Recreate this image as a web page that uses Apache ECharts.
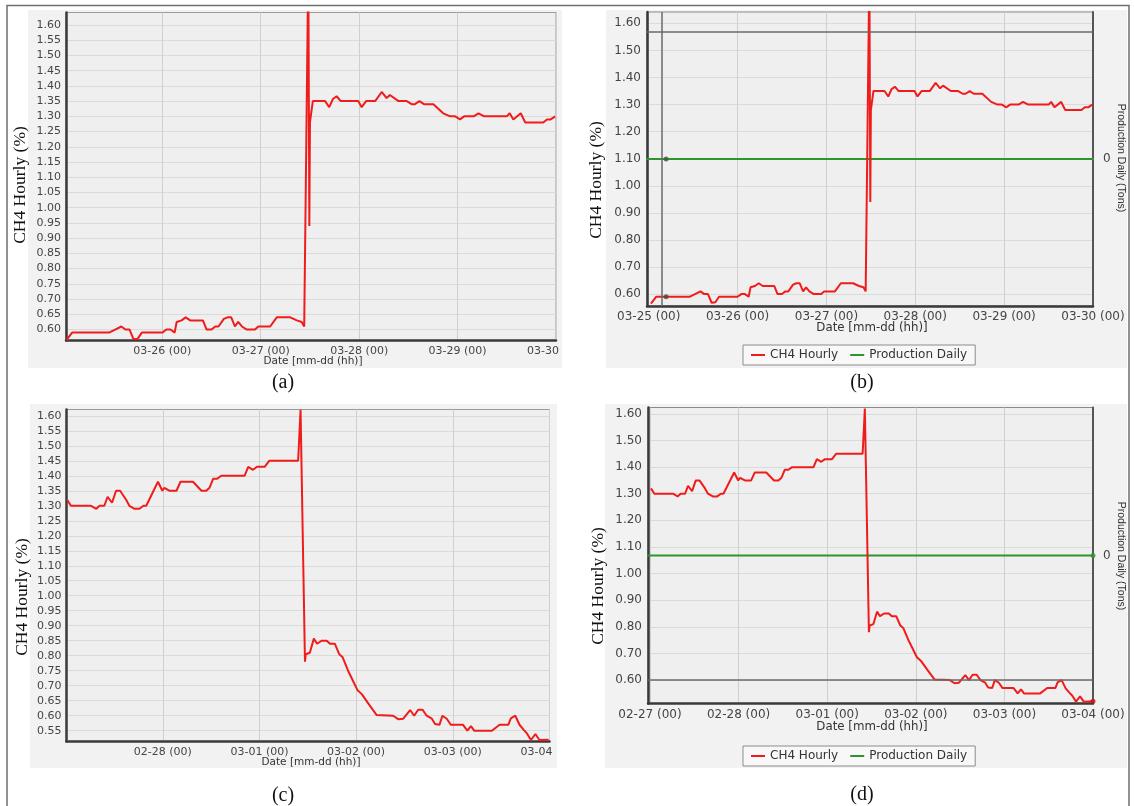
<!DOCTYPE html>
<html><head><meta charset="utf-8">
<script src="https://cdn.jsdelivr.net/npm/echarts@6/dist/echarts.min.js"></script>
<style>html,body{margin:0;padding:0;background:#fff}#c{width:1135px;height:806px}</style>
</head><body><div id="c"></div>
<script>
// ---- data: March event (panels a, b), hours from 2019-03-25 00:00 ----
const marchHours = [0.6, 2, 11, 12.5, 14, 15, 16, 17, 18, 19, 24, 25, 26, 27, 27.5, 28.7, 29.7, 30.8, 33.9, 34.8,
  36, 36.9, 37.7, 39, 39.9, 40.8, 41.7, 42.5, 43.4, 44.6, 46.6, 47.4, 50.3, 51.9, 55.2, 56.8, 58, 58.6, 59.6, 59.85,
  60.0, 60.7, 63.7, 64.7, 65.6, 66.5, 67.5, 71.8, 72.6, 73.7, 75.9, 77.5, 78.7, 79.5, 81.6, 83.6, 84.8, 85.6, 86.7, 87.8,
  90.1, 92.5, 94.2, 95.4, 96.6, 97.6, 99.9, 101.1, 102.5, 108, 108.7, 109.6, 111.4, 112.5, 116.9, 117.8, 118.7, 119.8];
const marchCH4 = [0.565, 0.59, 0.59, 0.60, 0.61, 0.60, 0.60, 0.568, 0.57, 0.59, 0.59, 0.60, 0.60, 0.59, 0.625, 0.63, 0.64, 0.63, 0.63, 0.60,
  0.60, 0.61, 0.61, 0.635, 0.64, 0.64, 0.61, 0.625, 0.61, 0.60, 0.60, 0.61, 0.61, 0.64, 0.64, 0.63, 0.625, 0.61, 1.80, 0.94,
  1.28, 1.35, 1.35, 1.33, 1.357, 1.366, 1.35, 1.35, 1.33, 1.35, 1.35, 1.38, 1.36, 1.37, 1.35, 1.35, 1.34, 1.34, 1.35, 1.34,
  1.34, 1.31, 1.30, 1.30, 1.29, 1.30, 1.30, 1.31, 1.30, 1.30, 1.31, 1.29, 1.31, 1.28, 1.28, 1.29, 1.29, 1.30];

// ---- data: Feb/Mar event (panels c, d), hours from 2019-02-27 00:00 ----
const febHours = [0.25, 1.2, 6.2, 7.5, 8.3, 9.5, 10.3, 11.4, 12.4, 13.4, 14.9, 15.7, 17, 18.2, 19.2, 19.9, 22.8, 23.9, 24.4, 25.7,
  27.4, 28.4, 31.5, 33.6, 34.8, 35.6, 36.5, 37.5, 38.5, 44.3, 45.2, 46.4, 47.4, 49.3, 50.4, 57.6, 58.2, 59.3, 59.5, 60.5,
  61.5, 62.3, 63.4, 64.7, 65.5, 66.7, 67.8, 68.6, 70, 70.9, 72.3, 73.4, 75, 77.1, 81.2, 82.5, 83.7, 85.4, 86.4, 87.4,
  88.5, 89.5, 90.8, 91.6, 92.7, 93.4, 94.5, 95.5, 98.5, 99.6, 100.5, 101.3, 105.7, 107.6, 109.8, 110.4, 111.5, 112.6, 113.6, 114.4,
  115.4, 116.5, 117.5, 119.8];
const febCH4 = [1.32, 1.30, 1.30, 1.29, 1.30, 1.30, 1.33, 1.31, 1.35, 1.35, 1.32, 1.30, 1.29, 1.29, 1.30, 1.30, 1.38, 1.35, 1.36, 1.35,
  1.35, 1.38, 1.38, 1.35, 1.35, 1.36, 1.39, 1.39, 1.40, 1.40, 1.43, 1.42, 1.43, 1.43, 1.45, 1.45, 1.62, 0.78, 0.805, 0.81,
  0.857, 0.84, 0.85, 0.85, 0.84, 0.84, 0.805, 0.796, 0.75, 0.725, 0.686, 0.672, 0.641, 0.602, 0.60, 0.588, 0.59, 0.619, 0.60, 0.62,
  0.62, 0.60, 0.59, 0.572, 0.57, 0.60, 0.59, 0.57, 0.57, 0.55, 0.565, 0.55, 0.55, 0.57, 0.57, 0.591, 0.60, 0.569, 0.553, 0.541,
  0.519, 0.539, 0.519, 0.52];

// Production Daily (Tons): constant 0 across the window
const prodHours = [-2, 122];
const prodTons = [0, 0];

// cursor readouts
const cursorB = { lineHour: 3.6, dotHour: 4.7, ch4: 0.59, prod: 0, hLine: 1.567 };
const cursorD = { dotHour: 120, ch4: 0.52, prod: 0, hLine: 0.60 };

// tick labels
const yTicksFine = [0.60, 0.65, 0.70, 0.75, 0.80, 0.85, 0.90, 0.95, 1.00, 1.05, 1.10, 1.15, 1.20, 1.25, 1.30, 1.35, 1.40, 1.45, 1.50, 1.55, 1.60];
const yTicksFineC = [0.55, 0.60, 0.65, 0.70, 0.75, 0.80, 0.85, 0.90, 0.95, 1.00, 1.05, 1.10, 1.15, 1.20, 1.25, 1.30, 1.35, 1.40, 1.45, 1.50, 1.55, 1.60];
const yTicksCoarse = [0.60, 0.70, 0.80, 0.90, 1.00, 1.10, 1.20, 1.30, 1.40, 1.50, 1.60];
const daysMarch = ['2019-03-25', '2019-03-26', '2019-03-27', '2019-03-28', '2019-03-29', '2019-03-30'];
const daysFeb = ['2019-02-27', '2019-02-28', '2019-03-01', '2019-03-02', '2019-03-03', '2019-03-04'];

// ---- helpers ----
const HOUR = 3600 * 1000;
function dayTs(s) { const p = s.split('-'); return new Date(+p[0], +p[1] - 1, +p[2], 0, 0, 0).getTime(); }
const BASE_M = dayTs(daysMarch[0]);
const BASE_F = dayTs(daysFeb[0]);
const th = (base, h) => base + h * HOUR;
function series(base, hours, vals) { return hours.map((h, i) => [th(base, h), vals[i]]); }
function pad(n) { return (n < 10 ? '0' : '') + n; }
function fmtDate(v) { const d = new Date(v); return pad(d.getMonth() + 1) + '-' + pad(d.getDate()) + ' (' + pad(d.getHours()) + ')'; }

const LBL = '#454545', AX = '#3a3a3a';
function xAx(gi, base, minH, fs, days) {
  const tv = days.map(dayTs);
  return {
    type: 'value', gridIndex: gi, min: th(base, minH), max: th(base, 120), scale: true,
    axisLine: { show: true, onZero: false, lineStyle: { color: AX, width: 2.5 } },
    axisTick: { show: false, customValues: tv },
    axisLabel: { customValues: tv, formatter: fmtDate, color: LBL, fontFamily: 'DejaVu Sans', fontSize: fs, margin: 5, hideOverlap: false, showMinLabel: true, showMaxLabel: true },
    splitLine: { show: true, lineStyle: { color: '#cfcfcf', width: 1 } }
  };
}
function yAx(gi, min, max, ticks, fs, margin) {
  return {
    type: 'value', gridIndex: gi, min: min, max: max,
    axisLine: { show: true, lineStyle: { color: AX, width: 2.5 } },
    axisTick: { show: false, customValues: ticks },
    axisLabel: { customValues: ticks, formatter: v => v.toFixed(2), color: LBL, fontFamily: 'DejaVu Sans', fontSize: fs, margin: margin },
    splitLine: { show: true, lineStyle: { color: '#dadada', width: 1 } }
  };
}
function yRight(gi) {
  return {
    type: 'value', gridIndex: gi, position: 'right', min: -1, max: 1, interval: 1,
    axisLine: { show: true, lineStyle: { color: '#555', width: 2 } },
    axisTick: { show: false },
    axisLabel: { formatter: v => (v === 0 ? '0' : ''), color: LBL, fontFamily: 'DejaVu Sans', fontSize: 12, margin: 10 },
    splitLine: { show: false }
  };
}
const RED = '#f01c1c', GREEN = '#2e952e';
function redLine(xi, yi, data, extra) {
  return Object.assign({ name: 'CH4 Hourly', type: 'line', xAxisIndex: xi, yAxisIndex: yi, data: data, showSymbol: false, symbol: 'none',
    lineStyle: { color: RED, width: 2 }, itemStyle: { color: RED }, clip: true, z: 3 }, extra || {});
}
function greenLine(xi, yi, base) {
  return { name: 'Production Daily', type: 'line', xAxisIndex: xi, yAxisIndex: yi, data: series(base, prodHours, prodTons), showSymbol: false, symbol: 'none',
    lineStyle: { color: GREEN, width: 2 }, itemStyle: { color: GREEN }, clip: true, z: 2 };
}
function dot(xi, yi, pt, color) {
  return { name: 'cursor', type: 'scatter', xAxisIndex: xi, yAxisIndex: yi, data: [pt], symbolSize: 5, itemStyle: { color: color }, clip: false, z: 5, silent: true };
}
function txt(x, y, text, font, rot, color) {
  return { type: 'text', x: x, y: y, rotation: rot || 0, z: 100,
    style: { text: text, font: font, fill: color || '#111', align: 'center', verticalAlign: 'middle' } };
}
const serifT = '17.5px "Liberation Serif", "Times New Roman", serif';
const serifP = '20px "Liberation Serif", "Times New Roman", serif';

const chart = echarts.init(document.getElementById('c'), null, { renderer: 'canvas' });
chart.setOption({
  animation: false,
  backgroundColor: '#ffffff',
  grid: [
    { left: 66, top: 12.5, width: 490, height: 328, show: true, backgroundColor: '#efefef', borderColor: '#9a9a9a', borderWidth: 1 },
    { left: 647, top: 12, width: 446, height: 294, show: true, backgroundColor: '#efefef', borderColor: '#8a8a8a', borderWidth: 1 },
    { left: 66.5, top: 409.5, width: 483, height: 332, show: true, backgroundColor: '#efefef', borderColor: '#9a9a9a', borderWidth: 1 },
    { left: 648, top: 407.5, width: 445, height: 296, show: true, backgroundColor: '#efefef', borderColor: '#8a8a8a', borderWidth: 1 }
  ],
  xAxis: [
    xAx(0, BASE_M, 0.51, 11, daysMarch),
    xAx(1, BASE_M, -0.46, 12, daysMarch),
    xAx(2, BASE_F, 0.1, 11, daysFeb),
    xAx(3, BASE_F, -0.54, 12, daysFeb)
  ],
  yAxis: [
    yAx(0, 0.564, 1.641, yTicksFine, 11, 5),
    yAx(1, 0.556, 1.642, yTicksCoarse, 12, 6),
    yRight(1),
    yAx(2, 0.514, 1.621, yTicksFineC, 11, 5),
    yAx(3, 0.512, 1.624, yTicksCoarse, 12, 6),
    yRight(3)
  ],
  legend: [
    { left: 743, top: 345, data: ['CH4 Hourly', 'Production Daily'], icon: 'rect', itemWidth: 14, itemHeight: 2, itemGap: 12,
      backgroundColor: '#f8f8f8', borderColor: '#8c8c8c', borderWidth: 1, borderRadius: 0, padding: [4, 8, 4, 8],
      textStyle: { fontFamily: 'DejaVu Sans', fontSize: 12, color: '#333' }, selectedMode: false },
    { left: 743, top: 746, data: ['CH4 Hourly', 'Production Daily'], icon: 'rect', itemWidth: 14, itemHeight: 2, itemGap: 12,
      backgroundColor: '#f8f8f8', borderColor: '#8c8c8c', borderWidth: 1, borderRadius: 0, padding: [4, 8, 4, 8],
      textStyle: { fontFamily: 'DejaVu Sans', fontSize: 12, color: '#333' }, selectedMode: false }
  ],
  series: [
    redLine(0, 0, series(BASE_M, marchHours, marchCH4)),
    redLine(1, 1, series(BASE_M, marchHours, marchCH4), {
      markLine: { silent: true, symbol: 'none', label: { show: false }, lineStyle: { color: '#6a6a6a', width: 1.5, type: 'solid' },
        data: [{ xAxis: th(BASE_M, cursorB.lineHour) }, { yAxis: cursorB.hLine }] }
    }),
    greenLine(1, 2, BASE_M),
    dot(1, 1, [th(BASE_M, cursorB.dotHour), cursorB.ch4], '#4a4a4a'),
    dot(1, 2, [th(BASE_M, cursorB.dotHour), cursorB.prod], '#3f5a3f'),
    redLine(2, 3, series(BASE_F, febHours, febCH4)),
    redLine(3, 4, series(BASE_F, febHours, febCH4), {
      markLine: { silent: true, symbol: 'none', label: { show: false }, lineStyle: { color: '#6a6a6a', width: 1.5, type: 'solid' },
        data: [{ yAxis: cursorD.hLine }] }
    }),
    greenLine(3, 5, BASE_F),
    dot(3, 4, [th(BASE_F, cursorD.dotHour), cursorD.ch4], '#d01010'),
    dot(3, 5, [th(BASE_F, cursorD.dotHour), cursorD.prod], '#2e952e')
  ],
  graphic: [
    { type: 'rect', z: -100, shape: { x: 28, y: 10, width: 534, height: 358 }, style: { fill: '#f2f2f2' } },
    { type: 'rect', z: -100, shape: { x: 606, y: 10, width: 521, height: 358 }, style: { fill: '#f2f2f2' } },
    { type: 'rect', z: -100, shape: { x: 30, y: 404, width: 527, height: 364 }, style: { fill: '#f2f2f2' } },
    { type: 'rect', z: -100, shape: { x: 605, y: 404, width: 522, height: 364 }, style: { fill: '#f2f2f2' } },
    { type: 'rect', z: 90, shape: { x: 562, y: 341, width: 42, height: 28 }, style: { fill: '#ffffff' } },
    { type: 'rect', z: 90, shape: { x: 557, y: 742, width: 46, height: 27 }, style: { fill: '#ffffff' } },
    { type: 'polyline', z: 100, shape: { points: [[7, 806], [7, 5.5], [1129, 5.5], [1129, 806]] }, style: { stroke: '#6e6e6e', lineWidth: 1.5, fill: null } },
    txt(20, 185, 'CH4 Hourly (%)', serifT, Math.PI / 2),
    txt(596, 180, 'CH4 Hourly (%)', serifT, Math.PI / 2),
    txt(22, 597, 'CH4 Hourly (%)', serifT, Math.PI / 2),
    txt(598, 586, 'CH4 Hourly (%)', serifT, Math.PI / 2),
    txt(1121, 158, 'Production Daily (Tons)', '10.5px "Liberation Sans", Arial, sans-serif', -Math.PI / 2, '#333'),
    txt(1121, 556, 'Production Daily (Tons)', '10.5px "Liberation Sans", Arial, sans-serif', -Math.PI / 2, '#333'),
    txt(313, 361.5, 'Date [mm-dd (hh)]', '10.5px "DejaVu Sans", sans-serif', 0, '#333'),
    txt(872, 327.5, 'Date [mm-dd (hh)]', '11.8px "DejaVu Sans", sans-serif', 0, '#333'),
    txt(311, 762, 'Date [mm-dd (hh)]', '10.5px "DejaVu Sans", sans-serif', 0, '#333'),
    txt(872, 726.5, 'Date [mm-dd (hh)]', '11.8px "DejaVu Sans", sans-serif', 0, '#333'),
    txt(283, 383, '(a)', serifP, 0),
    txt(862, 383, '(b)', serifP, 0),
    txt(283, 796, '(c)', serifP, 0),
    txt(862, 795, '(d)', serifP, 0)
  ]
});
</script></body></html>
